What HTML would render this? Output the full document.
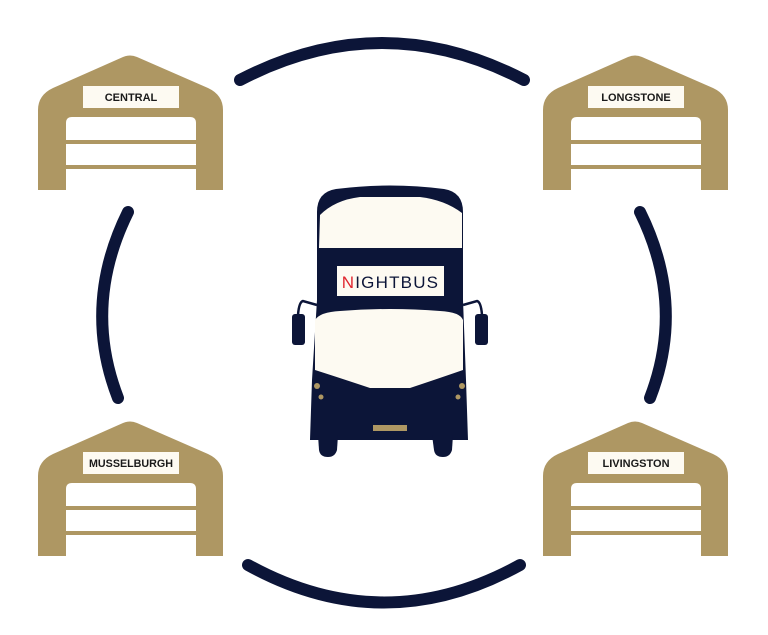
<!DOCTYPE html>
<html><head><style>
html,body{margin:0;padding:0;background:#fff;}
svg{display:block;}
text{font-family:"Liberation Sans",sans-serif;}
</style></head><body>
<svg width="768" height="635" viewBox="0 0 768 635" xmlns="http://www.w3.org/2000/svg">
<defs>
<g id="garage">
  <path d="M0,135 L0,55 Q0,40 15,33 L85,2 Q92,-1 99,2 L170,33 Q185,40 185,55 L185,135 Z" fill="#ae9763"/>
  <path d="M28,135 L28,68 Q28,62 34,62 L152,62 Q158,62 158,68 L158,135 Z" fill="#fff"/>
  <rect x="28" y="85" width="130" height="4" fill="#ae9763"/>
  <rect x="28" y="110" width="130" height="4" fill="#ae9763"/>
  <rect x="45" y="31" width="96" height="22" fill="#fdfaf2"/>
</g>
</defs>
<use href="#garage" x="38" y="55"/>
<use href="#garage" x="543" y="55"/>
<use href="#garage" x="38" y="421"/>
<use href="#garage" x="543" y="421"/>
<g font-size="11" font-weight="bold" fill="#1a1a1a" text-anchor="middle">
<text x="131" y="101">CENTRAL</text>
<text x="636" y="101">LONGSTONE</text>
<text x="131" y="467" textLength="84" lengthAdjust="spacingAndGlyphs">MUSSELBURGH</text>
<text x="636" y="467">LIVINGSTON</text>
</g>
<g fill="none" stroke="#0c1538" stroke-width="12" stroke-linecap="round">
<path d="M240,80 Q382,6 524,80"/>
<path d="M128,212 Q82,305 118,398"/>
<path d="M640,212 Q686,305 650,398"/>
<path d="M248,565 Q384,640 520,565"/>
</g>
<!-- bus -->
<g fill="#0c1538">
<path d="M317,300 L317,212 Q317,192 336,189 Q390,182 444,189 Q463,192 463,212 L463,300 L466,380 L468,440 L310,440 L312,380 Z"/>
<path d="M318,435 L338,435 L337,450 Q335,457 328,457 Q320,457 319,450 Z"/>
<path d="M432,435 L453,435 L452,450 Q450,457 443,457 Q435,457 434,450 Z"/>
<path d="M317,305 L303,301 Q299,302 298,315" fill="none" stroke="#0c1538" stroke-width="2.5"/>
<path d="M463,305 L477,301 Q481,302 482,315" fill="none" stroke="#0c1538" stroke-width="2.5"/>
<rect x="292" y="314" width="13" height="31" rx="3"/>
<rect x="475" y="314" width="13" height="31" rx="3"/>
</g>
<path d="M319,248 L320,215 Q335,200 360,197 L420,197 Q445,200 462,213 L462,248 Z" fill="#fdfaf2"/>
<path d="M315,320 Q320,312 340,311 Q390,307 440,311 Q460,312 463,320 L463,370 Q440,378 410,388 L370,388 Q340,378 315,370 Z" fill="#fdfaf2"/>
<rect x="337" y="266" width="107" height="30" fill="#fdfaf2"/>
<text x="390.5" y="288" font-size="17" text-anchor="middle" fill="#0c1538" letter-spacing="1.2"><tspan fill="#e0262f">N</tspan>IGHTBUS</text>
<g fill="#ae9763">
<circle cx="317" cy="386" r="3"/><circle cx="321" cy="397" r="2.5"/>
<circle cx="462" cy="386" r="3"/><circle cx="458" cy="397" r="2.5"/>
<rect x="373" y="425" width="34" height="6"/>
</g>
</svg>
</body></html>
